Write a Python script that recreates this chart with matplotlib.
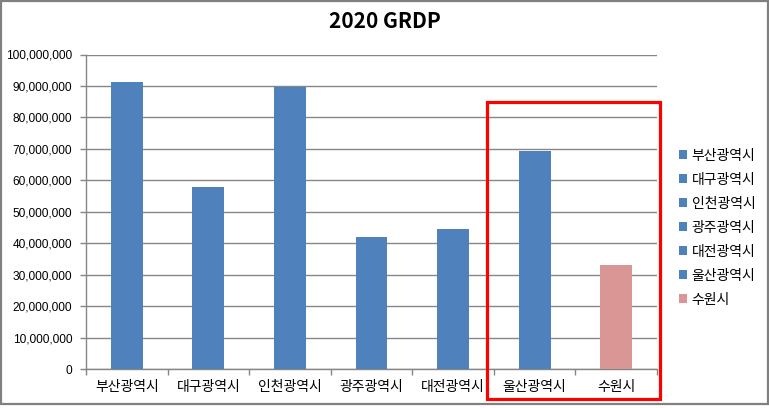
import matplotlib
matplotlib.use("Agg")
import matplotlib.pyplot as plt
from matplotlib.patches import Rectangle, Patch
from matplotlib.ticker import FuncFormatter, MultipleLocator

plt.rcParams['font.family'] = ['Noto Sans CJK KR', 'DejaVu Sans']

categories = ['부산광역시', '대구광역시', '인천광역시', '광주광역시', '대전광역시', '울산광역시', '수원시']
values = [91200000, 57900000, 89800000, 42000000, 44600000, 69400000, 33100000]
colors = ['#4F81BD'] * 6 + ['#D99694']
title = '2020 GRDP'

W, H = 769, 408
fig = plt.figure(figsize=(W / 100, H / 100), dpi=100)
ax = fig.add_axes([86 / W, (H - 369) / H, (657 - 86) / W, (369 - 54.5) / H])

x = list(range(len(categories)))
bars = ax.bar(x, values, width=0.39, color=colors, zorder=3)

ax.set_xlim(-0.5, len(categories) - 0.5)
ax.set_ylim(0, 100000000)
ax.yaxis.set_major_locator(MultipleLocator(10000000))
ax.yaxis.set_major_formatter(FuncFormatter(lambda v, p: f'{int(v):,}'))
ax.grid(axis='y', color='#868686', linewidth=1.0, zorder=0)

for s in ['top', 'right']:
    ax.spines[s].set_visible(False)
for s in ['left', 'bottom']:
    ax.spines[s].set_color('#868686')
    ax.spines[s].set_linewidth(1.0)

ax.set_xticks(x)
ax.set_xticklabels(categories, fontsize=10)
ax.tick_params(axis='x', length=0, pad=8)
ax.set_xticks([i + 0.5 for i in range(-1, len(categories))], minor=True)
ax.tick_params(axis='x', which='minor', length=4, color='#868686', width=1.0)
ax.tick_params(axis='y', length=4, color='#868686', width=1.0, pad=6)
for lbl in ax.get_yticklabels():
    lbl.set_fontfamily(['Liberation Sans', 'DejaVu Sans'])
    lbl.set_fontsize(8.6)

fig.text(0.5, (H - 22) / H, title, ha='center', va='center', fontsize=15, fontweight='bold',
         family=['Noto Sans CJK KR', 'DejaVu Sans'])

handles = [Patch(facecolor=c, edgecolor='none') for c in colors]
leg = fig.legend(handles, categories, loc='upper left', bbox_to_anchor=(673 / W, (H - 143) / H),
                 frameon=False, fontsize=10, handlelength=0.6, handleheight=0.6,
                 handletextpad=0.35, labelspacing=0.72, borderaxespad=0)

# red highlight box
fig.add_artist(Rectangle((487 / W, (H - 399) / H), (660 - 487) / W, (399 - 102) / H,
                         transform=fig.transFigure, fill=False, edgecolor='#FF0000',
                         linewidth=2.3, zorder=10))
# outer chart border
fig.add_artist(Rectangle((1 / W, (H - 403.5) / H), (767.5 - 1) / W, (403.5 - 1) / H,
                         transform=fig.transFigure, fill=False, edgecolor='#808080',
                         linewidth=1.6, zorder=10))

fig.savefig('out.png', dpi=100)
